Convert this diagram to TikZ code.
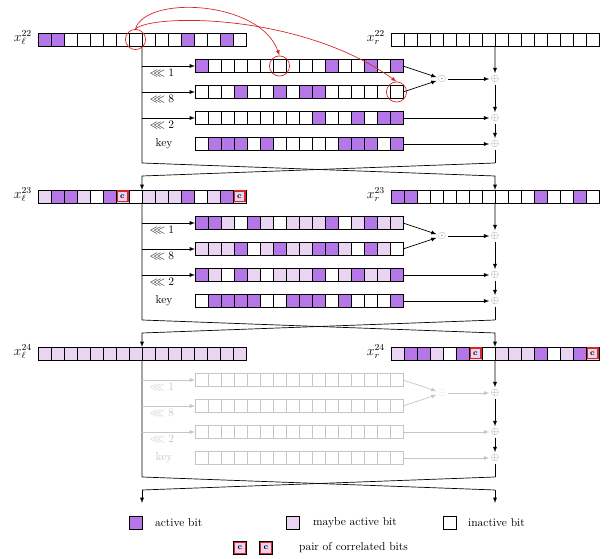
\documentclass[tikz,border=0pt]{standalone}
\usepackage{amsmath,amssymb}
\usepackage{tikz}
\usetikzlibrary{calc}

\definecolor{actv}{RGB}{181,118,232}
\definecolor{mayb}{RGB}{233,212,241}
\definecolor{corr}{RGB}{214,38,38}

\tikzset{
  bit/.style={draw=black, line width=0.8pt, fill=white, minimum size=4mm, inner sep=0pt, outer sep=0pt},
  ab/.style={fill=actv},
  mb/.style={fill=mayb},
  ib/.style={fill=white},
  cb/.style={fill=mayb, label={[draw=corr, line width=1.1pt, minimum size=4mm-2pt, inner sep=0pt, font=\scriptsize\bfseries]center:c}},
  gb/.style={draw=gray!45, line width=0.6pt},
  op/.style={circle, inner sep=0pt, text=gray!90, font=\small},
  hl/.style={circle, draw=corr, semithick, minimum size=6.2mm},
}

% one row of 16 bits, cells named <name>-0 ... <name>-15
\newcommand{\bitrow}[4]{%
  \foreach \s [count=\i from 0] in {#4}
    \node[bit,\s] (#1-\i) at (#2+6.5+13*\i,#3) {};
}

\begin{document}
\begin{tikzpicture}[x=0.307mm, y=-0.307mm, >=latex, semithick]
\useasboundingbox (0,0) rectangle (614,559);

% round 22
\bitrow{xl22}{38}{39.5}{ab,ab,ib,ib,ib,ib,ib,ib,ib,ib,ib,ab,ib,ib,ab,ib}
\bitrow{xr22}{391}{39.5}{ib,ib,ib,ib,ib,ib,ib,ib,ib,ib,ib,ib,ib,ib,ib,ib}
\bitrow{ra22}{195}{66}{ab,ib,ib,ib,ib,ib,ib,ib,ib,ib,ab,ib,ib,ab,ib,ab}
\bitrow{rb22}{195}{92}{ib,ib,ib,ab,ib,ib,ab,ib,ab,ab,ib,ib,ib,ib,ib,ib}
\bitrow{rc22}{195}{118}{ib,ib,ib,ib,ib,ib,ib,ib,ib,ab,ib,ib,ab,ib,ab,ab}
\bitrow{ky22}{195}{144}{ib,ab,ab,ab,ib,ab,ib,ib,ib,ib,ib,ab,ab,ab,ib,ab}

% round 23
\bitrow{xl23}{38}{196.5}{mb,ab,ab,mb,ib,ab,cb,ib,mb,mb,mb,ab,ib,mb,ab,cb}
\bitrow{xr23}{391}{196.5}{ab,ab,ib,ib,ib,ib,ib,ib,ib,ib,ib,ab,ib,ib,ab,ib}
\bitrow{ra23}{195}{223}{ab,ab,mb,ib,ab,mb,ib,mb,mb,mb,ab,ib,mb,ab,mb,mb}
\bitrow{rb23}{195}{249}{mb,mb,mb,ab,ib,mb,ab,mb,mb,ab,ab,mb,ib,ab,mb,ib}
\bitrow{rc23}{195}{275}{ab,mb,ib,ab,mb,ib,mb,mb,mb,ab,ib,mb,ab,mb,mb,ab}
\bitrow{ky23}{195}{301}{ib,ab,ab,ab,ab,ib,ib,ab,ab,ab,ib,ab,ib,ib,ib,ab}

% round 24
\bitrow{xl24}{38}{353.5}{mb,mb,mb,mb,mb,mb,mb,mb,mb,mb,mb,mb,mb,mb,mb,mb}
\bitrow{xr24}{391}{353.5}{mb,ab,ab,mb,ib,ab,cb,ib,mb,mb,mb,ab,ib,mb,ab,cb}
\bitrow{ra24}{195}{380}{gb,gb,gb,gb,gb,gb,gb,gb,gb,gb,gb,gb,gb,gb,gb,gb}
\bitrow{rb24}{195}{406}{gb,gb,gb,gb,gb,gb,gb,gb,gb,gb,gb,gb,gb,gb,gb,gb}
\bitrow{rc24}{195}{432}{gb,gb,gb,gb,gb,gb,gb,gb,gb,gb,gb,gb,gb,gb,gb,gb}
\bitrow{ky24}{195}{458}{gb,gb,gb,gb,gb,gb,gb,gb,gb,gb,gb,gb,gb,gb,gb,gb}

\foreach \n/\yb/\clr/\dcl in {22/39.5/black/gray, 23/196.5/black/gray, 24/353.5/gray!45/gray!30} {
  \node[font=\large, anchor=east] (nxl\n) at ($(xl\n-0.west)+(-2,-2)$) {$x_\ell^{\n}$};
  \node[font=\large, anchor=east] (nxr\n) at ($(xr\n-0.west)+(-2,-2)$) {$x_r^{\n}$};
  \node[op, text=\dcl] (dt\n) at (442,\yb+39.5) {$\odot$};
  \node[op] (pa\n) at (495,\yb+39.5) {$\oplus$};
  \node[op] (pb\n) at (495,\yb+78.5) {$\oplus$};
  \node[op] (pc\n) at (495,\yb+104.5) {$\oplus$};
  \coordinate (le\n) at (142,\yb+123.5);
  \coordinate (re\n) at (495,\yb+123.5);
  \coordinate (ln\n) at (142,\yb+136.5);
  \coordinate (rn\n) at (495,\yb+136.5);
  \node[text=\clr] (sa\n) at (162,\yb+33.5) {$\lll 1$};
  \node[text=\clr] (sb\n) at (162,\yb+59.5) {$\lll 8$};
  \node[text=\clr] (sc\n) at (162,\yb+85.5) {$\lll 2$};
  \node[text=\clr] (sk\n) at (164,\yb+104.5) {key};
  % left half: rotations
  \draw (xl\n-7.south east) -- (le\n);
  \draw[->, color=\clr] (le\n |- ra\n-0.west) -- (ra\n-0.west);
  \draw[->, color=\clr] (le\n |- rb\n-0.west) -- (rb\n-0.west);
  \draw[->, color=\clr] (le\n |- rc\n-0.west) -- (rc\n-0.west);
  % and, xor
  \draw[->, color=\clr] (ra\n-15.east) -- (dt\n);
  \draw[->, color=\clr] (rb\n-15.east) -- (dt\n);
  \draw[->, color=\clr] (dt\n) -- (pa\n);
  \draw[->, color=\clr] (rc\n-15.east) -- (pb\n);
  \draw[->, color=\clr] (ky\n-15.east) -- (pc\n);
  % right half
  \draw[->] (xr\n-7.south east) -- (pa\n);
  \draw[->] (pa\n) -- (pb\n);
  \draw[->] (pb\n) -- (pc\n);
  \draw (pc\n) -- (re\n);
  % swap
  \draw (le\n) -- (rn\n);
  \draw (re\n) -- (ln\n);
}

\coordinate (outl) at (142,503);
\coordinate (outr) at (495,503);
\draw[->] (ln22) -- (xl23-7.north east);
\draw[->] (rn22) -- (xr23-7.north east);
\draw[->] (ln23) -- (xl24-7.north east);
\draw[->] (rn23) -- (xr24-7.north east);
\draw[->] (ln24) -- (outl);
\draw[->] (rn24) -- (outr);

% tracked bit
\node[hl] (hs) at (xl22-7) {};
\node[hl] (ha) at (ra22-6) {};
\node[hl] (hb) at (rb22-15) {};
\draw[->, corr] (hs.north) .. controls (145,-5) and (260,0) .. (ha.north);
\draw[->, corr] (hs.north) .. controls (150,14) and (300,12) .. (hb.north);

% legend
\node[bit,ab] (lga) at (136,523) {};
\node[anchor=west] (lgat) at (151,523) {active bit};
\node[bit,mb] (lgm) at (292.5,522.5) {};
\node[anchor=west] (lgmt) at (309,522.5) {maybe active bit};
\node[bit,ib] (lgi) at (449.5,522.5) {};
\node[anchor=west] (lgit) at (464,522.5) {inactive bit};
\node[bit,cb] (lgc1) at (240,548) {};
\node[bit,cb] (lgc2) at (266,548) {};
\node[anchor=west] (lgct) at (295,548) {pair of correlated bits};
\end{tikzpicture}
\end{document}
